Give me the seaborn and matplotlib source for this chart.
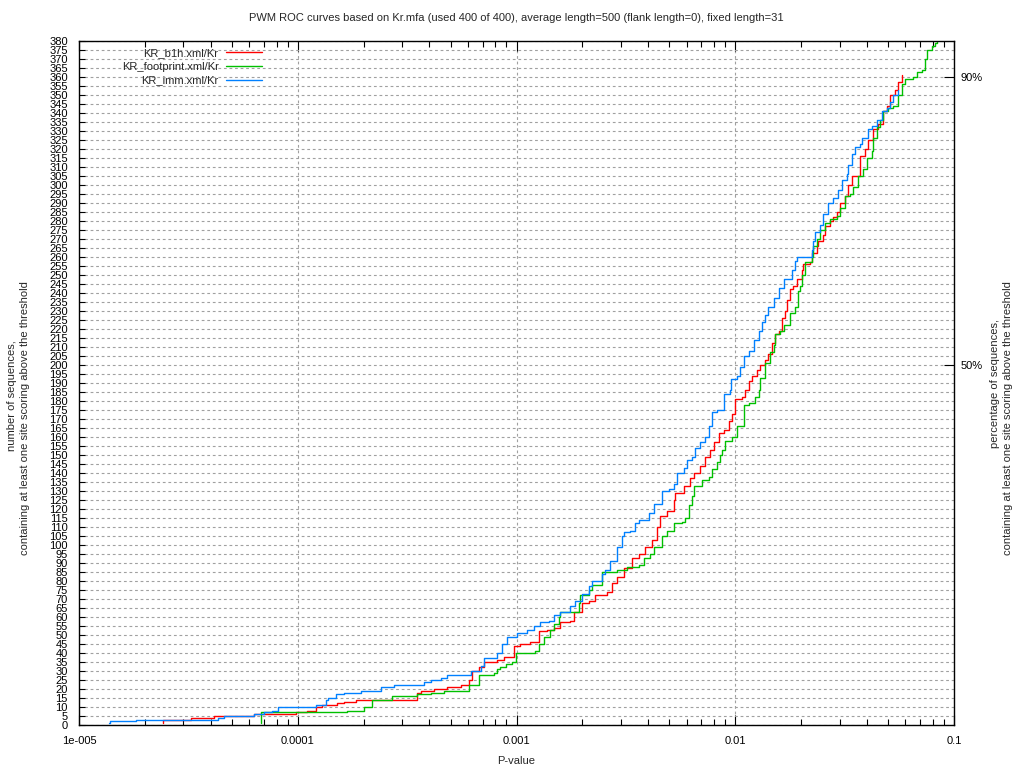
import numpy as np
import pandas as pd
import seaborn as sns
import matplotlib.pyplot as plt
from matplotlib.ticker import LogLocator, NullFormatter

# step curves: p-value where the count rises, count after the rise
p_b1h = [2.41e-5, 2.42e-5, 3.25e-5, 4.15e-5, 6.3e-5, 9.79e-5, 1.108e-4, 1.208e-4, 1.297e-4, 1.518e-4,
         1.627e-4, 1.84e-4, 2.194e-4, 3.52e-4, 3.645e-4, 4.193e-4, 4.83e-4, 5.55e-4, 6.057e-4, 6.28e-4,
         6.73e-4, 7.09e-4, 8.17e-4, 8.75e-4, 9.72e-4, 9.79e-4, 1.043e-3, 1.158e-3, 1.264e-3, 1.27e-3,
         1.381e-3, 1.48e-3, 1.588e-3, 1.764e-3, 1.827e-3, 1.995e-3, 2.139e-3, 2.295e-3, 2.596e-3, 2.735e-3,
         2.883e-3, 3.09e-3, 3.376e-3, 3.617e-3, 3.881e-3, 4.165e-3, 4.39e-3, 4.545e-3, 4.876e-3, 5.226e-3,
         5.32e-3, 5.806e-3, 6.23e-3, 6.45e-3, 6.92e-3, 7.30e-3, 7.69e-3, 7.96e-3, 8.39e-3, 8.84e-3,
         9.32e-3, 9.66e-3, 1.0e-2, 1.073e-2, 1.111e-2, 1.15e-2, 1.192e-2, 1.256e-2, 1.301e-2, 1.371e-2,
         1.419e-2, 1.471e-2, 1.522e-2, 1.577e-2, 1.634e-2, 1.692e-2, 1.722e-2, 1.783e-2, 1.846e-2, 1.913e-2,
         2.017e-2, 2.051e-2, 2.20e-2, 2.24e-2, 2.361e-2, 2.40e-2, 2.531e-2, 2.577e-2, 2.715e-2, 2.81e-2,
         2.913e-2, 3.016e-2, 3.18e-2, 3.29e-2, 3.412e-2, 3.723e-2, 3.73e-2, 3.924e-2, 4.06e-2, 4.28e-2,
         4.51e-2, 4.755e-2, 4.93e-2, 5.10e-2, 5.378e-2, 5.57e-2, 5.77e-2]
n_b1h = [1, 3, 4, 5, 6, 7, 8, 10, 11, 12,
         13, 14, 14, 18, 19, 20, 21, 22, 25, 30,
         32, 35, 36, 38, 39, 44, 45, 46, 47, 52,
         53, 54, 57, 58, 63, 68, 69, 72, 74, 79,
         82, 87, 93, 95, 99, 103, 110, 116, 119, 125,
         129, 133, 137, 140, 144, 149, 153, 157, 162, 164,
         169, 173, 181, 182, 186, 191, 194, 197, 200, 203,
         206, 212, 217, 219, 226, 230, 236, 242, 244, 248,
         253, 256, 257, 262, 266, 269, 272, 277, 280, 282,
         285, 290, 294, 300, 305, 310, 316, 320, 325, 331,
         334, 341, 344, 350, 353, 357, 361]

p_footprint = [6.78e-5, 6.79e-5, 1.686e-4, 2.008e-4, 2.194e-4, 2.706e-4, 3.52e-4, 4.05e-4, 4.656e-4, 6.057e-4,
               6.73e-4, 6.75e-4, 7.88e-4, 8.17e-4, 8.45e-4, 8.91e-4, 9.56e-4, 9.9e-4, 1.221e-3, 1.264e-3,
               1.342e-3, 1.43e-3, 1.48e-3, 1.56e-3, 1.588e-3, 1.926e-3, 1.96e-3, 2.139e-3, 2.216e-3, 2.462e-3,
               2.47e-3, 2.883e-3, 3.203e-3, 3.617e-3, 3.814e-3, 4.09e-3, 4.236e-3, 4.627e-3, 4.876e-3, 5.226e-3,
               5.71e-3, 5.91e-3, 6.12e-3, 6.34e-3, 6.45e-3, 7.045e-3, 7.55e-3, 7.83e-3, 8.25e-3, 8.48e-3,
               8.70e-3, 9.0e-3, 9.66e-3, 1.018e-2, 1.091e-2, 1.15e-2, 1.234e-2, 1.278e-2, 1.301e-2, 1.371e-2,
               1.445e-2, 1.496e-2, 1.522e-2, 1.605e-2, 1.662e-2, 1.783e-2, 1.879e-2, 1.945e-2, 1.98e-2, 2.017e-2,
               2.087e-2, 2.24e-2, 2.278e-2, 2.361e-2, 2.444e-2, 2.577e-2, 2.715e-2, 2.913e-2, 3.016e-2, 3.18e-2,
               3.35e-2, 3.47e-2, 3.656e-2, 3.853e-2, 3.993e-2, 4.21e-2, 4.28e-2, 4.436e-2, 4.593e-2, 4.755e-2,
               5.01e-2, 5.28e-2, 5.57e-2, 5.77e-2, 5.975e-2, 6.52e-2, 6.76e-2, 7.12e-2, 7.37e-2, 7.505e-2,
               7.91e-2, 8.19e-2, 8.34e-2]
n_footprint = [1, 7, 8, 10, 14, 16, 17, 18, 19, 22,
               23, 28, 29, 31, 32, 34, 35, 40, 41, 45,
               49, 53, 56, 60, 63, 68, 72, 75, 78, 80,
               85, 86, 88, 89, 93, 95, 99, 105, 108, 112,
               113, 115, 122, 127, 133, 136, 138, 142, 146, 150,
               153, 158, 160, 166, 178, 179, 182, 186, 193, 201,
               207, 211, 217, 219, 222, 229, 232, 241, 244, 250,
               257, 260, 266, 270, 275, 279, 281, 283, 287, 294,
               295, 299, 305, 309, 315, 319, 326, 332, 336, 341,
               343, 344, 350, 356, 359, 360, 363, 364, 370, 375,
               377, 379, 381]

p_imm = [1.37e-5, 1.38e-5, 1.82e-5, 4.30e-5, 4.6e-5, 6.3e-5, 7.0e-5, 7.6e-5, 8.1e-5, 1.21e-4,
         1.34e-4, 1.37e-4, 1.49e-4, 1.63e-4, 1.94e-4, 2.39e-4, 2.75e-4, 3.40e-4, 3.77e-4, 4.05e-4,
         4.50e-4, 4.83e-4, 6.17e-4, 6.85e-4, 7.09e-4, 8.17e-4, 8.61e-4, 9.07e-4, 1.007e-3, 1.119e-3,
         1.20e-3, 1.287e-3, 1.405e-3, 1.48e-3, 1.588e-3, 1.764e-3, 1.86e-3, 1.995e-3, 2.139e-3, 2.216e-3,
         2.462e-3, 2.55e-3, 2.687e-3, 2.883e-3, 3.04e-3, 3.09e-3, 3.315e-3, 3.494e-3, 3.617e-3, 4.019e-3,
         4.236e-3, 4.627e-3, 4.96e-3, 5.226e-3, 5.416e-3, 5.806e-3, 6.02e-3, 6.34e-3, 6.565e-3, 6.92e-3,
         7.30e-3, 7.55e-3, 7.83e-3, 8.25e-3, 8.84e-3, 9.49e-3, 9.56e-3, 1.018e-2, 1.054e-2, 1.091e-2,
         1.15e-2, 1.212e-2, 1.278e-2, 1.324e-2, 1.371e-2, 1.419e-2, 1.496e-2, 1.577e-2, 1.662e-2, 1.815e-2,
         1.879e-2, 1.913e-2, 2.24e-2, 2.278e-2, 2.319e-2, 2.444e-2, 2.531e-2, 2.667e-2, 2.81e-2, 2.963e-2,
         3.07e-2, 3.236e-2, 3.29e-2, 3.412e-2, 3.532e-2, 3.723e-2, 3.79e-2, 4.06e-2, 4.21e-2, 4.436e-2,
         4.675e-2, 4.93e-2, 5.10e-2, 5.28e-2, 5.57e-2]
n_imm = [1, 2, 3, 4, 5, 6, 7, 8, 10, 11,
         14, 15, 17, 18, 19, 21, 22, 22, 24, 25,
         26, 28, 30, 33, 37, 40, 45, 49, 51, 53,
         55, 57, 58, 61, 63, 66, 69, 73, 77, 80,
         84, 86, 91, 99, 105, 107, 108, 112, 114, 118,
         123, 130, 131, 134, 140, 143, 147, 149, 154, 157,
         160, 166, 174, 175, 184, 186, 192, 194, 199, 205,
         208, 214, 219, 224, 228, 232, 237, 243, 248, 253,
         258, 260, 264, 269, 274, 278, 284, 290, 293, 297,
         303, 306, 311, 317, 321, 323, 326, 331, 333, 336,
         341, 343, 346, 350, 353]

motifs = ['KR_b1h.xml/Kr', 'KR_footprint.xml/Kr', 'KR_imm.xml/Kr']
colors = ['#ff0000', '#00c000', '#0080ff']

x_ticks = [1e-5, 1e-4, 1e-3, 1e-2, 1e-1]
x_labels = ['1e-005', '0.0001', '0.001', '0.01', '0.1']
pct_ticks = [200, 360]
pct_labels = ['50%', '90%']

title = ('PWM ROC curves based on Kr.mfa (used 400 of 400), average length=500 '
         '(flank length=0), fixed length=31')

df = pd.concat([
    pd.DataFrame({'pvalue': p_b1h, 'count': n_b1h, 'motif': motifs[0]}),
    pd.DataFrame({'pvalue': p_footprint, 'count': n_footprint, 'motif': motifs[1]}),
    pd.DataFrame({'pvalue': p_imm, 'count': n_imm, 'motif': motifs[2]}),
], ignore_index=True)

sns.set_theme(style='white')
plt.rcParams['font.family'] = ['Liberation Sans', 'DejaVu Sans']

fig = plt.figure(figsize=(10.24, 7.68), dpi=100)
ax = fig.add_axes([79 / 1024, 1 - 725 / 768, 875 / 1024, 684 / 768])
ax.set_xscale('log')

sns.lineplot(data=df, x='pvalue', y='count', hue='motif', hue_order=motifs,
             palette=colors, estimator=None, sort=False, drawstyle='steps-post',
             linewidth=1.0, ax=ax)

ax.set_xlim(1e-5, 0.1)
ax.set_ylim(0, 380)
ax.set_xticks(x_ticks)
ax.set_xticklabels(x_labels)
ax.xaxis.set_minor_locator(LogLocator(base=10, subs=np.arange(2, 10)))
ax.xaxis.set_minor_formatter(NullFormatter())
ax.set_yticks(range(0, 381, 5))
ax.set_xlabel('')
ax.set_ylabel('')

ax.set_axisbelow(True)
ax.grid(True, which='major', color='#a0a0a0', linestyle=(0, (2.5, 2.5)), linewidth=0.8)
ax.grid(False, which='minor')
for s in ax.spines.values():
    s.set_color('black')
    s.set_linewidth(1.0)

ax.tick_params(axis='both', which='both', direction='in', colors='black',
               bottom=True, top=True, left=True, right=True, labelsize=8, width=0.8)
ax.tick_params(axis='x', which='major', length=7, pad=8)
ax.tick_params(axis='x', which='minor', length=4)
ax.tick_params(axis='y', which='major', length=4.5, pad=8)

ax2 = ax.twinx()
ax2.set_ylim(0, 380)
ax2.set_yticks(pct_ticks)
ax2.set_yticklabels(pct_labels)
ax2.grid(False)
ax2.tick_params(axis='y', direction='in', length=7, width=0.8, labelsize=8, pad=5,
                colors='black', right=True)
for s in ax2.spines.values():
    s.set_visible(False)

handles, labels = ax.get_legend_handles_labels()
ax.legend(handles, labels, loc='upper right', bbox_to_anchor=(0.209, 0.99),
          markerfirst=False, frameon=False, fontsize=8, handlelength=3.2,
          handletextpad=0.7, labelspacing=0.35, borderpad=0, borderaxespad=0)

fig.text(516.5 / 1024, 1 - 18 / 768, title, ha='center', va='center', fontsize=8)
fig.text(516.5 / 1024, 1 - 761 / 768, 'P-value', ha='center', va='center', fontsize=8)
fig.text(12 / 1024, 1 - 396 / 768, 'number of sequences,', rotation=90,
         ha='center', va='center', fontsize=8)
fig.text(25 / 1024, 1 - 418 / 768, 'containing at least one site scoring above the threshold',
         rotation=90, ha='center', va='center', fontsize=8)
fig.text(995 / 1024, 1 - 383 / 768, 'percentage of sequences,', rotation=90,
         ha='center', va='center', fontsize=8)
fig.text(1008 / 1024, 1 - 418 / 768, 'containing at least one site scoring above the threshold',
         rotation=90, ha='center', va='center', fontsize=8)

fig.savefig('out.png', dpi=100)
